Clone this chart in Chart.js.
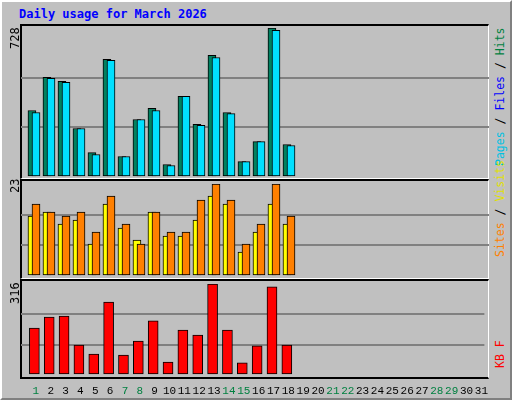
<!DOCTYPE html>
<html>
<head>
<meta charset="utf-8">
<script src="https://cdn.jsdelivr.net/npm/chart.js@4/dist/chart.umd.min.js"></script>
<style>
  html, body { margin: 0; padding: 0; }
  body { width: 512px; height: 400px; background: #c0c0c0; position: relative; overflow: hidden;
         font-family: "DejaVu Sans Mono", monospace; }
  #frame { position: absolute; left: 0; top: 0; width: 508px; height: 396px;
           border-top: 2px solid #ffffff; border-left: 2px solid #ffffff;
           border-right: 2px solid #808080; border-bottom: 2px solid #808080; }
  .panel { position: absolute; left: 20px; width: 469px; background: #c0c0c0;
           border-top: 2px solid #000; border-left: 2px solid #000;
           border-right: 1px solid #fff; border-bottom: 1px solid #fff; box-sizing: border-box; }
  canvas { position: absolute; }
  .rot { position: absolute; transform: rotate(-90deg); transform-origin: top left;
         font-size: 12px; line-height: 12px; white-space: nowrap; }
  .leg { font-size: 11.5px; }
  #title { position: absolute; left: 19px; top: 7px; font-size: 12px; font-weight: bold; color: #0000ff; }
</style>
</head>
<body>
<div id="frame"></div>
<div id="title">Daily usage for March 2026</div>
<div class="panel" style="top:24px;height:155px"></div>
<div class="panel" style="top:179px;height:100px"></div>
<div class="panel" style="top:279px;height:100px;border-bottom:2px solid #000"></div>

<canvas id="c1" style="left:21px;top:28px;width:468px;height:149px"></canvas>
<canvas id="c2" style="left:21px;top:184px;width:468px;height:92px"></canvas>
<canvas id="c3" style="left:21px;top:284px;width:468px;height:115px"></canvas>

<div class="rot" style="left:9px;top:49px">728</div>
<div class="rot" style="left:9px;top:193px">23</div>
<div class="rot" style="left:9px;top:304px">316</div>

<div class="rot leg" style="left:494px;top:166px"><span style="color:#00c0e0">Pages</span><span style="color:#000"> / </span><span style="color:#0000ff">Files</span><span style="color:#000"> / </span><span style="color:#008040">Hits</span></div>
<div class="rot leg" style="left:494px;top:257px"><span style="color:#ff8000">Sites</span><span style="color:#000"> / </span><span style="color:#e0e000">Visits</span></div>
<div class="rot leg" style="left:494px;top:368px"><span style="color:#ff0000">KB F</span></div>

<script>
const days = Array.from({ length: 31 }, (_, i) => i + 1);
const weekendDays = [1, 7, 8, 14, 15, 21, 22, 28, 29];

const hits = [325, 487, 467, 237, 119, 575, 100, 281, 335, 61, 394, 257, 594, 315, 75, 173, 728, 159];
const files = [315, 482, 462, 237, 110, 570, 100, 281, 325, 56, 394, 252, 584, 310, 75, 173, 717, 154];
const sites = [15, 16, 13, 14, 8, 18, 12, 9, 16, 10, 10, 14, 20, 18, 6, 11, 18, 13];
const visits = [18, 16, 15, 16, 11, 20, 13, 8, 16, 11, 11, 19, 23, 19, 8, 13, 23, 15];
const kbytes = [163, 201, 205, 104, 73, 253, 69, 118, 188, 45, 156, 139, 316, 156, 42, 101, 306, 104];

const maxHits = 728;
const maxVisits = 23;
const maxKB = 316;

const X_MIN = 0.0;
const X_MAX = 31.2;
const SHIFT = 0.27;

function puntos(valores, desplazamiento = 0) {
  return valores.map((v, i) => ({ x: days[i] + desplazamiento, y: v }));
}

function serie(valores, color, desplazamiento, orden, grosor = 8) {
  return {
    data: puntos(valores, desplazamiento),
    backgroundColor: color,
    borderColor: "#000",
    borderWidth: 1,
    borderSkipped: false,
    barThickness: grosor,
    grouped: false,
    order: orden
  };
}

function opciones(max, conEjeX) {
  return {
    responsive: false,
    animation: false,
    devicePixelRatio: 1,
    layout: { padding: 0 },
    plugins: { legend: { display: false }, tooltip: { enabled: false } },
    scales: {
      x: {
        type: "linear",
        offset: false,
        min: X_MIN,
        max: X_MAX,
        display: conEjeX,
        grid: { display: false },
        border: { display: false },
        afterBuildTicks: (s) => { s.ticks = days.map((d) => ({ value: d })); },
        afterFit: (s) => { s.height = conEjeX ? 24 : 0; },
        ticks: {
          padding: 1,
          autoSkip: false,
          maxRotation: 0,
          font: { family: "Liberation Mono", size: 11 },
          color: (ctx) => weekendDays.includes(ctx.tick.value) ? "#008040" : "#000",
          callback: (v) => String(v)
        }
      },
      y: {
        min: 0,
        max: max,
        display: true,
        afterFit: (s) => { s.width = 0; },
        afterBuildTicks: (s) => { s.ticks = [0, 1, 2, 3].map((k) => ({ value: max * k / 3 })); },
        ticks: { display: false },
        border: { display: false },
        grid: {
          drawTicks: false,
          lineWidth: 2,
          color: (ctx) => (ctx.index === 1 || ctx.index === 2) ? "#808080" : "rgba(0,0,0,0)"
        }
      }
    }
  };
}

function crear(id, datasets, max, conEjeX) {
  const canvas = document.getElementById(id);
  canvas.width = parseFloat(canvas.style.width);
  canvas.height = parseFloat(canvas.style.height);
  return new Chart(canvas, { type: "bar", data: { datasets }, options: opciones(max, conEjeX) });
}

function init() {
  crear("c1", [
    serie(hits, "#008060", -SHIFT, 2),
    serie(files, "#00e0ff", 0, 1)
  ], maxHits, false);

  crear("c2", [
    serie(sites, "#ffff00", -SHIFT, 2),
    serie(visits, "#ff8000", 0, 1)
  ], maxVisits, false);

  crear("c3", [
    serie(kbytes, "#ff0000", -0.1, 1, 10)
  ], maxKB, true);
}

if (document.readyState === "loading") {
  document.addEventListener("DOMContentLoaded", init);
} else {
  init();
}
</script>
</body>
</html>
